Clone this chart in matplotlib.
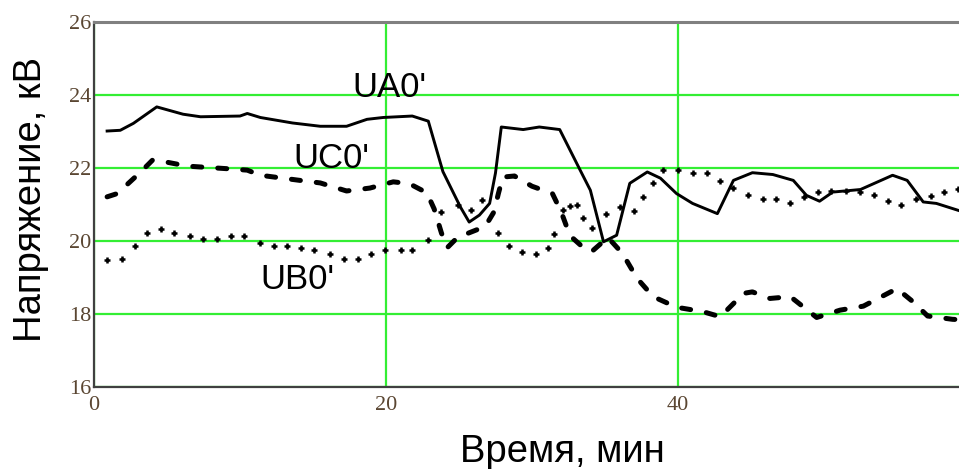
import matplotlib
matplotlib.use('Agg')
import matplotlib.pyplot as plt

# UA0' - solid line
ua_t = [0.9, 1.8, 2.7, 4.3, 6.1, 7.3, 10.0, 10.5, 11.4, 13.6, 15.5, 17.3, 18.7, 19.8,
        21.8, 22.9, 23.9, 25.1, 25.7, 26.4, 27.1, 27.5, 27.9, 29.4, 30.5, 31.9, 33.3,
        34.0, 34.9, 35.8, 36.7, 37.9, 38.8, 39.9, 41.0, 42.7, 43.8, 45.1, 46.5, 47.9,
        48.8, 49.7, 50.6, 52.5, 54.7, 55.7, 56.8, 57.7, 59.2]
ua_v = [23.01, 23.03, 23.22, 23.67, 23.47, 23.40, 23.42, 23.49, 23.38, 23.23, 23.14,
        23.14, 23.33, 23.38, 23.42, 23.28, 21.90, 20.93, 20.52, 20.71, 21.03, 21.86,
        23.12, 23.05, 23.12, 23.05, 21.94, 21.39, 19.98, 20.16, 21.58, 21.89, 21.72,
        21.30, 21.03, 20.75, 21.66, 21.87, 21.82, 21.66, 21.25, 21.09, 21.34, 21.41,
        21.80, 21.66, 21.07, 21.03, 20.84]

# UC0' - dashed line
uc_t = [0.9, 1.6, 3.2, 4.0, 4.7, 6.4, 9.1, 10.5, 11.4, 14.1, 15.5, 17.3, 18.9, 20.5,
        21.6, 22.8, 23.3, 23.8, 24.2, 24.9, 26.8, 27.4, 27.7, 28.0, 28.8, 30.0, 31.4,
        32.0, 32.6, 33.8, 34.2, 35.2, 36.2, 37.2, 38.3, 39.9, 41.7, 42.9, 44.5, 45.1,
        46.3, 47.7, 49.5, 51.1, 52.7, 55.0, 56.1, 57.1, 58.8, 59.3]
uc_v = [21.21, 21.30, 21.89, 22.21, 22.18, 22.05, 21.98, 21.94, 21.80, 21.66, 21.59,
        21.37, 21.45, 21.62, 21.57, 21.32, 20.88, 20.22, 19.82, 20.10, 20.40, 20.80,
        21.30, 21.75, 21.78, 21.50, 21.30, 20.80, 20.15, 19.72, 19.75, 20.10, 19.66,
        18.98, 18.48, 18.19, 18.07, 17.93, 18.57, 18.61, 18.43, 18.48, 17.91, 18.11,
        18.22, 18.70, 18.34, 17.95, 17.86, 17.85]

# UB0' - dotted
ub_t = [0.9, 1.9, 2.8, 3.6, 4.6, 5.5, 6.6, 7.5, 8.4, 9.4, 10.3, 11.4, 12.3, 13.2, 14.2,
        15.1, 16.2, 17.1, 18.1, 19.0, 19.9, 21.0, 21.8, 22.9, 23.8, 24.9, 25.8, 26.6,
        27.7, 28.4, 29.3, 30.3, 31.1, 31.5, 32.1, 32.6, 33.1, 33.5, 34.1, 35.1, 36.0,
        37.0, 37.6, 38.3, 39.0, 40.0, 41.0, 42.0, 42.9, 43.8, 44.8, 45.8, 46.7, 47.7,
        48.6, 49.6, 50.5, 51.5, 52.5, 53.4, 54.4, 55.3, 56.3, 57.3, 58.2, 59.2]
ub_v = [19.48, 19.52, 19.87, 20.22, 20.34, 20.22, 20.13, 20.07, 20.07, 20.13, 20.13,
        19.96, 19.87, 19.87, 19.81, 19.75, 19.64, 19.52, 19.52, 19.64, 19.75, 19.75,
        19.75, 20.02, 20.80, 21.00, 20.84, 21.12, 20.21, 19.87, 19.70, 19.64, 19.81,
        20.19, 20.84, 20.97, 20.98, 20.62, 20.36, 20.75, 20.93, 20.82, 21.21, 21.59,
        21.94, 21.94, 21.87, 21.87, 21.64, 21.44, 21.27, 21.14, 21.14, 21.05, 21.21,
        21.33, 21.37, 21.37, 21.33, 21.27, 21.09, 20.98, 21.14, 21.23, 21.33, 21.42]

x_ticks = [0, 20, 40]
y_ticks = [16, 18, 20, 22, 24, 26]

fig = plt.figure(figsize=(9.59, 4.69), dpi=100)
ax = fig.add_axes([0.098, 0.1742, 0.902, 0.7795])

ax.plot(ua_t, ua_v, color='black', lw=2.1, zorder=3)
ax.plot(uc_t, uc_v, color='black', lw=3.6, dashes=(1.8, 3.2),
        dash_capstyle='round', zorder=3)
ax.plot(ub_t, ub_v, ls='none', marker='+', ms=4.5, mew=1.8, color='black', zorder=3)

ax.set_xlim(0, 59.25)
ax.set_ylim(16, 26)
ax.set_xticks(x_ticks)
ax.set_yticks(y_ticks)
ax.grid(True, color='#33ee33', lw=1.6, zorder=1)
ax.tick_params(length=0, labelsize=16, labelcolor='#5a4632')
ax.tick_params(axis='y', pad=2)
ax.tick_params(axis='x', pad=6)
for lbl in ax.get_xticklabels() + ax.get_yticklabels():
    lbl.set_family('Liberation Serif')

ax.spines['right'].set_visible(False)
ax.spines['top'].set_color('#808080')
ax.spines['top'].set_linewidth(2.2)
ax.spines['left'].set_color('#404040')
ax.spines['left'].set_linewidth(1.6)
ax.spines['bottom'].set_color('#404040')
ax.spines['bottom'].set_linewidth(1.6)

lab_font = dict(family='Liberation Sans', color='black')
ax.text(17.67, 23.93, "UA0'", fontsize=25, ha='left', va='baseline', **lab_font)
ax.text(13.63, 21.99, "UC0'", fontsize=25, ha='left', va='baseline', **lab_font)
ax.text(11.37, 18.69, "UB0'", fontsize=25, ha='left', va='baseline', **lab_font)

fig.text(562 / 959, 1 - 462 / 469, 'Время, мин', fontsize=27.5, ha='center',
         va='baseline', **lab_font)
fig.text(31 / 959, 1 - 200 / 469, 'Напряжение, кВ', fontsize=27.5, rotation=90,
         ha='center', va='center', **lab_font)

fig.savefig('out.png', dpi=100)
